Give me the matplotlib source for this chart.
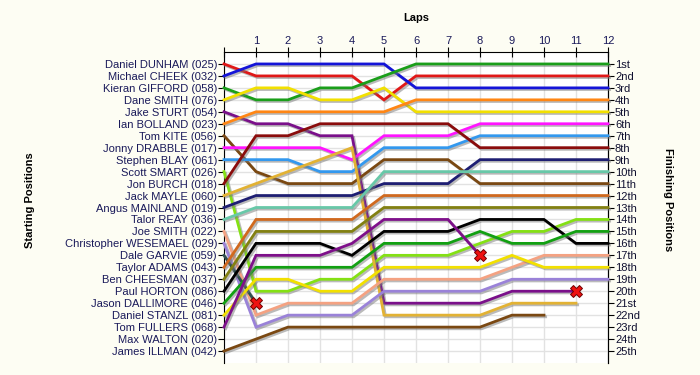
import matplotlib
matplotlib.use("Agg")
import matplotlib.pyplot as plt
import matplotlib.patheffects as pe

plt.rcParams['font.family'] = ['Liberation Sans', 'DejaVu Sans']

drivers = ["Daniel DUNHAM (025)", "Michael CHEEK (032)", "Kieran GIFFORD (058)",
           "Dane SMITH (076)", "Jake STURT (054)", "Ian BOLLAND (023)",
           "Tom KITE (056)", "Jonny DRABBLE (017)", "Stephen BLAY (061)",
           "Scott SMART (026)", "Jon BURCH (018)", "Jack MAYLE (060)",
           "Angus MAINLAND (019)", "Talor REAY (036)", "Joe SMITH (022)",
           "Christopher WESEMAEL (029)", "Dale GARVIE (059)", "Taylor ADAMS (043)",
           "Ben CHEESMAN (037)", "Paul HORTON (086)", "Jason DALLIMORE (046)",
           "Daniel STANZL (081)", "Tom FULLERS (068)", "Max WALTON (020)",
           "James ILLMAN (042)"]

# position of each driver after every lap (lap 0 = grid), list stops when the driver stops
positions = [
    [1, 2, 2, 2, 2, 4, 2, 2, 2, 2, 2, 2, 2],
    [2, 1, 1, 1, 1, 1, 3, 3, 3, 3, 3, 3, 3],
    [3, 4, 4, 3, 3, 2, 1, 1, 1, 1, 1, 1, 1],
    [4, 3, 3, 4, 4, 3, 5, 5, 5, 5, 5, 5, 5],
    [5, 6, 6, 7, 7, 21, 21, 21, 21, 20, 20, 20],
    [6, 5, 5, 5, 5, 5, 4, 4, 4, 4, 4, 4, 4],
    [7, 10, 11, 11, 11, 9, 9, 9, 11, 11, 11, 11, 11],
    [8, 8, 8, 8, 9, 7, 7, 7, 6, 6, 6, 6, 6],
    [9, 9, 9, 10, 10, 8, 8, 8, 7, 7, 7, 7, 7],
    [10, 20, 20, 19, 19, 17, 17, 17, 16, 15, 15, 14, 14],
    [11, 7, 7, 6, 6, 6, 6, 6, 8, 8, 8, 8, 8],
    [12, 11, 10, 9, 8, 22, 22, 22, 22, 21, 21, 21],
    [13, 12, 12, 12, 12, 11, 11, 11, 9, 9, 9, 9, 9],
    [14, 13, 13, 13, 13, 10, 10, 10, 10, 10, 10, 10, 10],
    [15, 22, 21, 21, 21, 19, 19, 19, 19, 18, 17, 17, 17],
    [16, 23, 22, 22, 22, 20, 20, 20, 20, 19, 19, 19, 19],
    [17, 21],
    [18, 14, 14, 14, 14, 12, 12, 12, 12, 12, 12, 12, 12],
    [19, 15, 15, 15, 15, 13, 13, 13, 13, 13, 13, 13, 13],
    [20, 16, 16, 16, 17, 15, 15, 15, 14, 14, 14, 16, 16],
    [21, 18, 18, 18, 18, 16, 16, 16, 15, 16, 16, 15, 15],
    [22, 19, 19, 20, 20, 18, 18, 18, 18, 17, 18, 18, 18],
    [23, 17, 17, 17, 16, 14, 14, 14, 17],
    [],
    [25, 24, 23, 23, 23, 23, 23, 23, 23, 22, 22],
]
retired = ["Jake STURT (054)", "Dale GARVIE (059)", "Tom FULLERS (068)"]

colours = ["#e01818", "#1414d8", "#1a9e1a", "#f2e000", "#7a108a", "#ff8614",
           "#7a4812", "#ff14ff", "#3398ee", "#84e014", "#8a0c0c", "#e2b234",
           "#1e1e72", "#68c8a8", "#f4a282", "#9a82d8", "#2f4f4f", "#d0691e",
           "#828012", "#000000", "#12a012", "#f2e000", "#7e108a", "#888888",
           "#7a4812"]

n_laps = 12
ordinals = ["1st", "2nd", "3rd"] + [f"{i}th" for i in range(4, 21)] + ["21st", "22nd", "23rd", "24th", "25th"]

fig = plt.figure(figsize=(7, 3.75), dpi=100, facecolor="#fdfdf3")
ax = fig.add_axes([224/700, 1 - 363/375, 384/700, 311/375])
ax.set_facecolor("white")

ax.set_xlim(0, n_laps)
ax.set_ylim(26, 0)
ax.set_xticks(range(n_laps + 1))
ax.set_xticklabels([""] + [str(i) for i in range(1, n_laps + 1)])
ax.set_yticks(range(1, 26))
ax.set_yticklabels(drivers)
ax.xaxis.tick_top()
ax.tick_params(axis="x", direction="inout", length=7, labelsize=8, labelcolor="#1a1a5a", pad=1)
ax.tick_params(axis="y", direction="out", length=4, labelsize=8, labelcolor="#1a1a5a", pad=1)
ax.grid(True, color="#e2e2e2", lw=1)
ax.set_axisbelow(True)
ax.spines["bottom"].set_visible(False)

shadow = [pe.SimpleLineShadow(offset=(1.2, -1.2), shadow_color="#777777", alpha=0.5), pe.Normal()]
for name, pos, col in zip(drivers, positions, colours):
    if not pos:
        continue
    ax.plot(range(len(pos)), pos, color=col, lw=2.0, solid_joinstyle="miter",
            path_effects=shadow, clip_on=False, zorder=3)
for name in retired:
    pos = positions[drivers.index(name)]
    ax.plot(len(pos) - 1, pos[-1], marker="X", ms=9, mfc="#ee1111", mec="#700000",
            mew=0.7, zorder=5, clip_on=False)

right = ax.secondary_yaxis("right")
right.set_yticks(range(1, 26))
right.set_yticklabels(ordinals)
right.tick_params(direction="out", length=4, labelsize=8, labelcolor="#101030", pad=1)

fig.text(416/700, 1 - 18/375, "Laps", ha="center", va="center", fontsize=8, fontweight="bold")
fig.text(30/700, 1 - 200/375, "Starting Positions", ha="center", va="center",
         rotation=90, fontsize=8, fontweight="bold")
fig.text(668/700, 1 - 200/375, "Finishing Positions", ha="center", va="center",
         rotation=270, fontsize=8, fontweight="bold")

fig.savefig("out.png", dpi=100, facecolor=fig.get_facecolor())
